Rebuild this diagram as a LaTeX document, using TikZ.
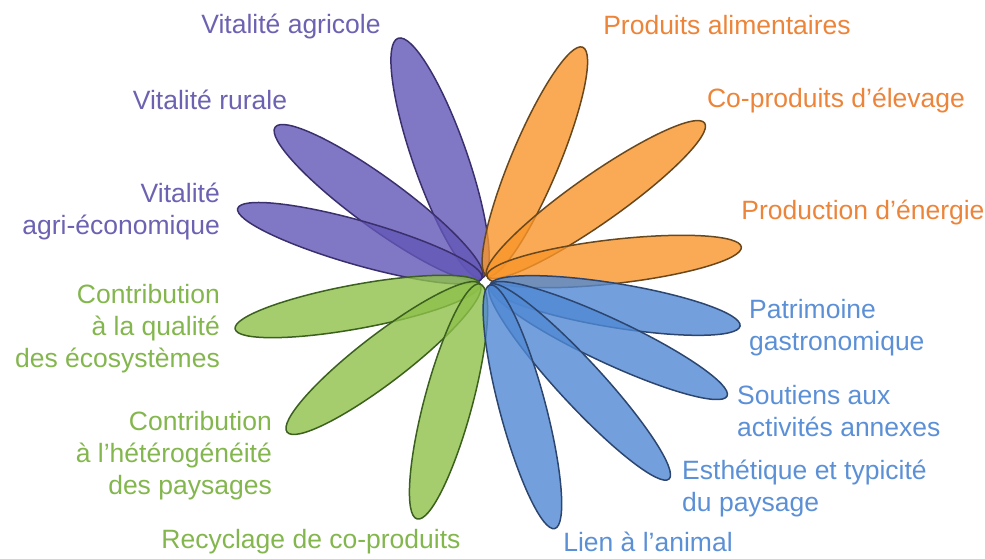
\documentclass[tikz,border=0pt]{standalone}
\usepackage{fontspec}
\setmainfont{Liberation Sans}
\definecolor{pfill}{RGB}{98,86,182}
\definecolor{pline}{RGB}{58,48,110}
\definecolor{ptext}{RGB}{108,98,178}
\definecolor{ofill}{RGB}{249,149,42}
\definecolor{oline}{RGB}{105,72,30}
\definecolor{otext}{RGB}{236,132,58}
\definecolor{gfill}{RGB}{142,192,74}
\definecolor{gline}{RGB}{60,96,30}
\definecolor{gtext}{RGB}{132,182,78}
\definecolor{bfill}{RGB}{80,136,211}
\definecolor{bline}{RGB}{44,70,112}
\definecolor{btext}{RGB}{92,144,214}
\tikzset{
  petal/.style={line width=1.5pt, fill opacity=0.8},
  ppetal/.style={petal, draw=pline, fill=pfill},
  opetal/.style={petal, draw=oline, fill=ofill},
  gpetal/.style={petal, draw=gline, fill=gfill},
  bpetal/.style={petal, draw=bline, fill=bfill},
  lbl/.style={inner sep=0pt, font=\fontsize{26.5}{32}\selectfont},
}
% \drawpetal{style}{base x}{base y}{angle}{half length}{half width}
\newcommand{\drawpetal}[6]{%
  \draw[#1, rotate around={#4:(#2,#3)}] (#2+#5,#3) ellipse [x radius=#5, y radius=#6];}
\begin{document}
\begin{tikzpicture}[x=1pt,y=-1pt]
\useasboundingbox (0,0) rectangle (985,558);
% purple
\drawpetal{ppetal}{482}{278}{109.3}{127}{27}
\drawpetal{ppetal}{482}{278}{143.9}{128}{25}
\drawpetal{ppetal}{482}{278}{164.1}{127}{22}
% orange
\drawpetal{opetal}{487}{276}{67.3}{124}{24}
\drawpetal{opetal}{487}{276}{35.1}{133}{24}
\drawpetal{opetal}{487}{276}{6.5}{128}{22}
% green
\drawpetal{gpetal}{480}{284}{190.4}{124.5}{22}
\drawpetal{gpetal}{480}{284}{217.5}{121.6}{24}
\drawpetal{gpetal}{480}{284}{255}{121.6}{24}
% blue
\drawpetal{bpetal}{490}{285}{-9.3}{126.7}{22}
\drawpetal{bpetal}{490}{285}{-25.1}{130.9}{22}
\drawpetal{bpetal}{490}{285}{-47.3}{132}{22}
\drawpetal{bpetal}{490}{285}{-75.1}{126}{23}
% labels
\node[lbl, text=ptext] (agricole) at (291,26) {Vitalité agricole};
\node[lbl, text=ptext] (rurale) at (210,100) {Vitalité rurale};
\node[lbl, text=ptext, align=right, anchor=east] (agrieco) at (220,211) {Vitalité\\agri-économique};
\node[lbl, text=otext] (alim) at (727,25) {Produits alimentaires};
\node[lbl, text=otext] (coprod) at (836,100) {Co-produits d'élevage};
\node[lbl, text=otext] (energie) at (863,212) {Production d'énergie};
\node[lbl, text=gtext, align=right, anchor=east] (qualite) at (220,329) {Contribution\\à la qualité\\des écosystèmes};
\node[lbl, text=gtext, align=right, anchor=east] (hetero) at (272,456) {Contribution\\à l'hétérogénéité\\des paysages};
\node[lbl, text=gtext] (recyc) at (311,542) {Recyclage de co-produits};
\node[lbl, text=btext, align=left, anchor=west] (patri) at (749,328) {Patrimoine\\gastronomique};
\node[lbl, text=btext, align=left, anchor=west] (soutiens) at (737,411) {Soutiens aux\\activités annexes};
\node[lbl, text=btext, align=left, anchor=west] (esthe) at (682,488) {Esthétique et typicité\\du paysage};
\node[lbl, text=btext] (lien) at (648,542) {Lien à l'animal};
\end{tikzpicture}
\end{document}
